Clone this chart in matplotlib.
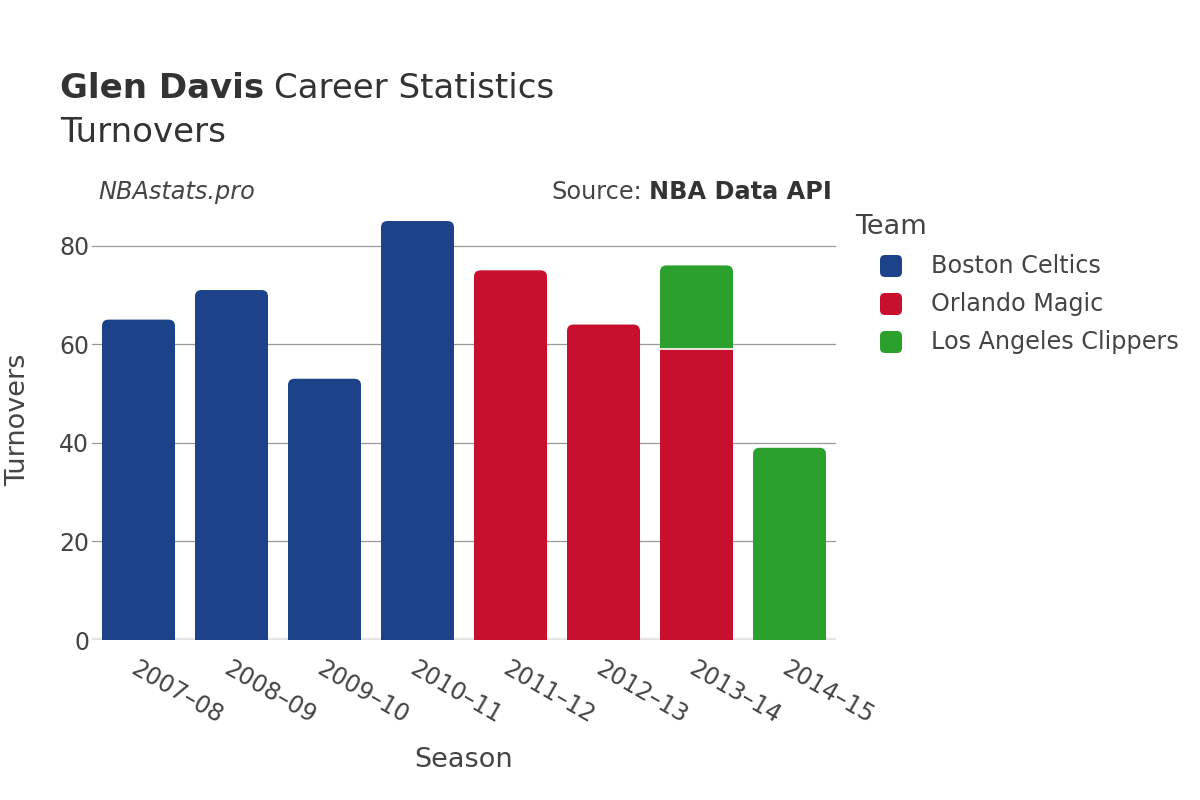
import matplotlib
matplotlib.use("Agg")
import matplotlib.pyplot as plt
from matplotlib.patches import FancyBboxPatch, Rectangle
import numpy as np

seasons = ["2007–08", "2008–09", "2009–10", "2010–11", "2011–12", "2012–13", "2013–14", "2014–15"]
teams = ["Boston Celtics", "Orlando Magic", "Los Angeles Clippers"]
colors = ["#1c4289", "#c8102e", "#2ca02c"]
boston = [65, 71, 53, 85, 0, 0, 0, 0]
orlando = [0, 0, 0, 0, 75, 64, 59, 0]
clippers = [0, 0, 0, 0, 0, 0, 17, 39]
series = [boston, orlando, clippers]

plt.rcParams['font.family'] = ['DejaVu Sans']
W, H = 1200, 800
fig = plt.figure(figsize=(12, 8), dpi=100)
ax = fig.add_axes([92/W, 160/H, (836-92)/W, (640-199)/H])

x = np.arange(len(seasons))
width = 0.785
ymax = 89.47
ax.set_xlim(-0.5, len(seasons) - 0.5)
ax.set_ylim(0, ymax)

xpx = (836 - 92) / len(seasons)
ypx = (640 - 199) / ymax
aspect = (1 / ypx) / (1 / xpx)
rad_x = 6.5 / xpx
rad_y = 6.5 / ypx

totals = np.sum(np.array(series, dtype=float), axis=0)
bottom = np.zeros(len(seasons))
for vals, col, name in zip(series, colors, teams):
    vals = np.array(vals, dtype=float)
    bars = ax.bar(x, vals, width, bottom=bottom, color=col, label=name)
    for i, b in enumerate(bars):
        b.set_visible(False)
        h = b.get_height()
        if h <= 0:
            continue
        top = b.get_y() + h
        is_top = abs(top - totals[i]) < 1e-9
        if is_top:
            p = FancyBboxPatch((b.get_x(), b.get_y()), b.get_width(), h,
                               boxstyle="round,pad=0,rounding_size=%f" % rad_x,
                               mutation_aspect=aspect, facecolor=col,
                               edgecolor="none", linewidth=0, zorder=3)
            ax.add_patch(p)
            ax.add_patch(Rectangle((b.get_x(), b.get_y()), b.get_width(), max(h - rad_y, 0),
                                   facecolor=col, edgecolor="none", zorder=3))
        else:
            ax.add_patch(Rectangle((b.get_x(), b.get_y()), b.get_width(), h,
                                   facecolor=col, edgecolor="none", zorder=3))
        if b.get_y() > 0:
            ax.plot([b.get_x(), b.get_x() + b.get_width()], [b.get_y(), b.get_y()],
                    color="white", linewidth=1.2, zorder=4, solid_capstyle='butt')
    bottom += vals

for s in ax.spines.values():
    s.set_visible(False)
ax.set_yticks([0, 20, 40, 60, 80])
ax.yaxis.grid(True, color="#999999", linewidth=0.9, zorder=0)
ax.set_axisbelow(True)
ax.axhline(0, color="#e5e5e5", linewidth=3, zorder=2)
ax.tick_params(axis='both', length=0, labelsize=17, colors="#444444")
ax.tick_params(axis='y', pad=2)
ax.set_xticks(x)
ax.set_xticklabels(seasons, rotation=-30, ha='left', rotation_mode='anchor')
ax.tick_params(axis='x', pad=12)

fig.text(464/W, 1 - 760/H, "Season", fontsize=19.5, color="#444444", ha='center', va='center')
fig.text(18/W, 1 - 420/H, "Turnovers", fontsize=19.5, color="#444444", ha='center', va='center', rotation=90)

t1 = fig.text(60/W, 1 - 89/H, "Glen Davis", fontsize=24.5, fontweight='bold', color="#333333", va='center')
fig.canvas.draw()
bb = t1.get_window_extent()
fig.text(bb.x1 / W + 10/W, 1 - 89/H, "Career Statistics", fontsize=24.5, color="#333333", va='center')
fig.text(60/W, 1 - 133/H, "Turnovers", fontsize=24.5, color="#333333", va='center')
fig.text(98/W, 1 - 192/H, "NBAstats.pro", fontsize=17.3, style='italic', color="#444444", va='center')
t2 = fig.text(832/W, 1 - 192/H, "NBA Data API", fontsize=17.3, fontweight='bold', color="#333333", va='center', ha='right')
fig.canvas.draw()
bb2 = t2.get_window_extent()
fig.text(bb2.x0 / W - 7/W, 1 - 192/H, "Source:", fontsize=17.3, color="#444444", va='center', ha='right')

# legend
fig.text(855/W, 1 - 227/H, "Team", fontsize=19.5, color="#444444", va='center', ha='left')
for k, (name, col) in enumerate(zip(teams, colors)):
    yc = 266 + 38 * k
    sq = 22
    p = FancyBboxPatch((880/W, 1 - (yc + sq/2)/H), sq/W, sq/H,
                       boxstyle="round,pad=0,rounding_size=%f" % (5/W),
                       mutation_aspect=W/H, transform=fig.transFigure,
                       facecolor=col, edgecolor="none")
    fig.patches.append(p)
    fig.text(931/W, 1 - yc/H, name, fontsize=17.2, color="#444444", va='center', ha='left')

fig.savefig("out.png", dpi=100)
